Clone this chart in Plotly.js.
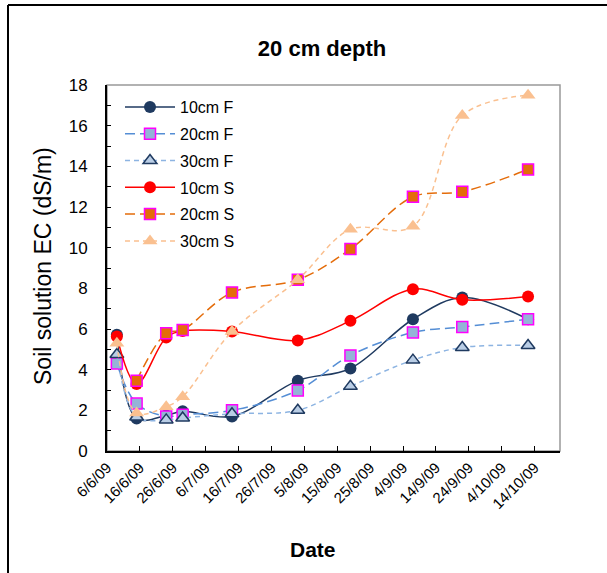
<!DOCTYPE html>
<html>
<head>
<meta charset="utf-8">
<script src="https://cdn.plot.ly/plotly-3.0.1.min.js"></script>
<style>html,body{margin:0;padding:0;background:#fff;} #chart{width:607px;height:573px;}</style>
</head>
<body>
<div id="chart"></div>
<script>
const dates = ['2009-06-09','2009-06-15','2009-06-24','2009-06-29','2009-07-14','2009-08-03','2009-08-19','2009-09-07','2009-09-22','2009-10-12'];
const ec10F = [5.72, 1.6, 1.75, 1.95, 1.7, 3.46, 4.06, 6.48, 7.55, 6.48];
const ec20F = [4.3, 2.33, 1.7, 1.78, 2.0, 2.98, 4.7, 5.83, 6.1, 6.48];
const ec30F = [4.75, 1.67, 1.53, 1.62, 1.83, 2.0, 3.18, 4.47, 5.09, 5.19];
const ec10S = [5.63, 3.3, 5.58, 5.9, 5.88, 5.44, 6.4, 7.96, 7.44, 7.6];
const ec20S = [null, 3.46, 5.79, 5.95, 7.8, 8.42, 9.93, 12.5, 12.75, 13.85];
const ec30S = [5.3, 1.87, 2.18, 2.67, 5.88, 8.42, 10.9, 11.05, 16.5, 17.5];
const seriesNames = ['10cm F','20cm F','30cm F','10cm S','20cm S','30cm S'];

const F = 'Arial, "Liberation Sans", sans-serif';
function tr(name, y, lineColor, dash, symbol, fill, border, bw, size, group){
  return {x: dates, y: y, name: name, type: 'scatter', mode: 'lines+markers',
    legendgroup: group,
    line: {color: lineColor, width: 1.5, dash: dash, shape: 'spline', smoothing: 1},
    marker: {symbol: symbol, size: size, color: fill, line: {color: border, width: bw}},
    connectgaps: false};
}
const data = [
  tr(seriesNames[0], ec10F, '#1F3A60', 'solid', 'circle', '#1F3A60', '#1F3A60', 0, 12, 'a'),
  tr(seriesNames[1], ec20F, '#558ED5', '10px,5px', 'square', '#95B3D7', '#FF00FF', 1.5, 11, 'b'),
  tr(seriesNames[2], ec30F, '#8DB4E2', '5px,4px', 'triangle-up', '#B9CDE5', '#1F3A60', 1.5, 12, 'c'),
  tr(seriesNames[3], ec10S, '#FF0000', 'solid', 'circle', '#FF0000', '#FF0000', 0, 12, 'd'),
  tr(seriesNames[4], ec20S, '#E46C0A', '10px,5px', 'square', '#E46C0A', '#FF00FF', 1.5, 11, 'e'),
  tr(seriesNames[5], ec30S, '#FAC090', '5px,4px', 'triangle-up', '#FAC090', '#FAC090', 0, 13, 'f')
];

const W = 607, H = 573, L = 107, R = 47, T = 85, B = 122;
const pw = W - L - R, ph = H - T - B;
const px = v => (v - L) / pw;
const py = v => (H - B - v) / ph;

const layout = {
  width: W, height: H,
  margin: {l: L, r: R, t: T, b: B},
  paper_bgcolor: '#fff', plot_bgcolor: '#fff',
  showlegend: true,
  font: {family: F, color: '#000'},
  title: {text: '<b>20 cm depth</b>', font: {family: F, size: 22, color: '#000'},
          x: 322 / W, xanchor: 'center', y: 1 - 48 / H, yanchor: 'middle'},
  xaxis: {type: 'date', range: ['2009-06-06', '2009-10-21 17:00'],
    tick0: '2009-06-06', dtick: 864000000, tickformat: '%-d/%-m/%y',
    tickangle: -45, tickfont: {family: F, size: 15, color: '#000'},
    ticks: 'inside', ticklen: 5, tickcolor: '#000', tickwidth: 1,
    showline: true, linecolor: '#000', linewidth: 2, showgrid: false, zeroline: false},
  yaxis: {range: [0, 18], dtick: 2, tick0: 0,
    tickfont: {family: F, size: 17, color: '#000'},
    ticks: 'inside', ticklen: 4, tickcolor: '#000', tickwidth: 1,
    minor: {dtick: 1, ticks: 'inside', ticklen: 4, tickcolor: '#000', tickwidth: 1, showgrid: false},
    ticklabelstandoff: 14,
    showline: true, linecolor: '#000', linewidth: 2, showgrid: false, zeroline: false},
  legend: {x: px(120), y: py(90), xanchor: 'left', yanchor: 'top',
    bgcolor: 'rgba(0,0,0,0)', borderwidth: 0,
    font: {family: F, size: 16, color: '#000'},
    itemwidth: 50,
    traceorder: 'grouped', tracegroupgap: 3},
  shapes: [
    {type: 'rect', xref: 'paper', yref: 'paper', x0: 0, x1: 1, y0: 0, y1: 1,
     line: {color: '#999', width: 1.5}, layer: 'below'},
    {type: 'line', xref: 'paper', yref: 'paper', x0: px(8), x1: px(607), y0: py(5), y1: py(5),
     line: {color: '#000', width: 2}},
    {type: 'line', xref: 'paper', yref: 'paper', x0: px(8), x1: px(8), y0: py(5), y1: py(573),
     line: {color: '#000', width: 2}}
  ],
  annotations: [
    {text: '<b>Date</b>', xref: 'paper', yref: 'paper', x: px(313), y: py(549),
     xanchor: 'center', yanchor: 'middle', showarrow: false,
     font: {family: F, size: 21, color: '#000'}},
    {text: 'Soil solution EC (dS/m)', xref: 'paper', yref: 'paper', x: px(43), y: py(266),
     xanchor: 'center', yanchor: 'middle', textangle: -90, showarrow: false,
     font: {family: F, size: 23, color: '#000'}}
  ]
};
Plotly.newPlot('chart', data, layout, {displayModeBar: false, staticPlot: true});
</script>
</body>
</html>
